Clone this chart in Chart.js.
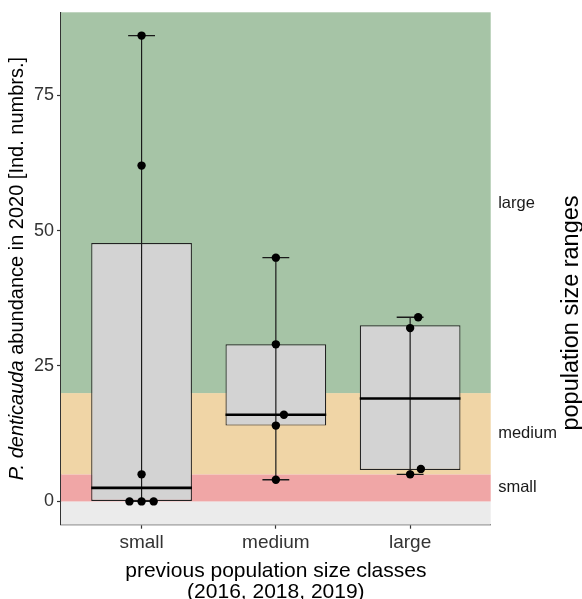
<!DOCTYPE html>
<html>
<head>
<meta charset="utf-8">
<script src="https://cdn.jsdelivr.net/npm/chart.js@4.4.1/dist/chart.umd.min.js"></script>
<style>
  html, body { margin: 0; padding: 0; background: #fff; }
  canvas { display: block; }
</style>
</head>
<body>
<canvas id="chart" width="582" height="599"></canvas>
<script>
const classes = ["small", "medium", "large"];
const classPos = [1, 2, 3];

// boxplot stats
const lowerWhisker = [0, 4, 5];
const lowerHinge = [0, 14, 5.8];
const medians = [2.5, 16, 19];
const upperHinge = [47.7, 29, 32.5];
const upperWhisker = [86, 45, 34];

// single observations (small sideways nudge as in the picture)
const smallValues = [86, 62, 5, 0, 0, 0];
const smallJitter = [0, 0, 0, -0.09, 0, 0.09];
const mediumValues = [45, 29, 16, 14, 4];
const mediumJitter = [0, 0, 0.06, 0, 0];
const largeValues = [34, 32, 6, 5];
const largeJitter = [0.06, 0, 0.08, 0];

// population size ranges behind the boxes
const bandFrom = [-Infinity, 0, 5, 20];
const bandTo = [0, 5, 20, Infinity];
const bandColors = ["#ebebeb", "#f0a6a6", "#f0d5a6", "#a6c4a6"];
const rangeNames = ["small", "medium", "large"];
const rangeLabelAt = [2.5, 12.5, 55];

const yTicks = [0, 25, 50, 75];
const xTitle = ["previous population size classes", "(2016, 2018, 2019)"];
const yTitle = [["P. denticauda", "italic"], [" abundance in 2020 [Ind. numbrs.]", "normal"]];
const rightTitle = "population size ranges";

const boxWidth = 0.75;
const capWidth = 0.2;
const FONT = "'Liberation Sans', Arial, Helvetica, sans-serif";

Chart.defaults.font.family = FONT;

const xHalf = (w) => (c) => {
  const x = c.chart.scales.x;
  return Math.abs(x.getPixelForValue(w / 2) - x.getPixelForValue(0));
};

const pts = [];
[smallValues, mediumValues, largeValues].forEach((vals, i) => {
  const jit = [smallJitter, mediumJitter, largeJitter][i];
  vals.forEach((v, j) => pts.push({ x: classPos[i] + jit[j], y: v }));
});

const whiskers = [];
classPos.forEach((x, i) => {
  whiskers.push({ x, y: lowerWhisker[i] }, { x, y: upperWhisker[i] }, { x, y: null });
});

const bandsPlugin = {
  id: "bands",
  beforeDatasetsDraw(chart) {
    const { ctx, chartArea: a, scales: { y } } = chart;
    ctx.save();
    bandFrom.forEach((from, i) => {
      const lo = Math.max(from, y.min);
      const hi = Math.min(bandTo[i], y.max);
      const top = y.getPixelForValue(hi);
      const bottom = y.getPixelForValue(lo);
      ctx.fillStyle = bandColors[i];
      ctx.fillRect(a.left, top, a.right - a.left, bottom - top);
    });
    ctx.restore();
  }
};

// rotated titles (left one mixes italic and normal text)
const titlesPlugin = {
  id: "titles",
  afterDraw(chart) {
    const { ctx, chartArea: a } = chart;
    ctx.save();
    ctx.fillStyle = "#000";
    ctx.textBaseline = "middle";
    ctx.translate(17, (a.top + a.bottom) / 2);
    ctx.rotate(-Math.PI / 2);
    let total = 0;
    yTitle.forEach(([t, st]) => {
      ctx.font = st + " 20px " + FONT;
      total += ctx.measureText(t).width;
    });
    let pos = -total / 2;
    yTitle.forEach(([t, st]) => {
      ctx.font = st + " 20px " + FONT;
      ctx.fillText(t, pos, 0);
      pos += ctx.measureText(t).width;
    });
    ctx.restore();

    ctx.save();
    ctx.fillStyle = "#000";
    ctx.textBaseline = "middle";
    ctx.textAlign = "center";
    ctx.font = "23.5px " + FONT;
    ctx.translate(572, 313);
    ctx.rotate(-Math.PI / 2);
    ctx.fillText(rightTitle, 0, 0);
    ctx.restore();
  }
};

new Chart(document.getElementById("chart"), {
  data: {
    datasets: [
      {
        type: "scatter",
        data: pts,
        pointRadius: 4.2,
        pointBackgroundColor: "#000",
        pointBorderWidth: 0,
        order: 0,
      },
      {
        type: "scatter",
        data: classPos.map((x, i) => ({ x, y: medians[i] })),
        pointStyle: "line",
        pointRadius: xHalf(boxWidth),
        pointBorderColor: "#000",
        pointBorderWidth: 2.6,
        order: 1,
      },
      {
        type: "scatter",
        data: classPos.flatMap((x, i) => [{ x, y: lowerWhisker[i] }, { x, y: upperWhisker[i] }]),
        pointStyle: "line",
        pointRadius: xHalf(capWidth),
        pointBorderColor: "#1a1a1a",
        pointBorderWidth: 1.3,
        order: 2,
      },
      {
        type: "line",
        data: whiskers,
        borderColor: "#1a1a1a",
        borderWidth: 1.2,
        pointRadius: 0,
        spanGaps: false,
        order: 3,
      },
      {
        type: "bar",
        data: classPos.map((x, i) => ({ x, y: [lowerHinge[i], upperHinge[i]] })),
        backgroundColor: "#d3d3d3",
        borderColor: "#222",
        borderWidth: 1.2,
        borderSkipped: false,
        categoryPercentage: boxWidth,
        barPercentage: 1,
        order: 4,
      },
    ],
  },
  options: {
    responsive: false,
    animation: false,
    devicePixelRatio: 1,
    layout: { padding: { top: 12.3, left: 0, right: 0, bottom: 0 } },
    plugins: { legend: { display: false }, tooltip: { enabled: false } },
    scales: {
      x: {
        type: "linear",
        min: 0.4,
        max: 3.6,
        offset: false,
        z: 1,
        afterBuildTicks: (s) => { s.ticks = classPos.map((v) => ({ value: v })); },
        afterFit: (s) => { s.height = 74.3; s.paddingLeft = 0; s.paddingRight = 0; },
        grid: { offset: false, drawOnChartArea: false, drawTicks: true, tickLength: 4, tickWidth: 1.2, tickColor: "#333" },
        border: { color: "#333", width: 1.3 },
        ticks: {
          callback: (v, i) => classes[i],
          font: { size: 19 },
          color: "#333",
          padding: 3,
          maxRotation: 0,
          autoSkip: false,
        },
        title: {
          display: true,
          text: xTitle,
          font: { size: 21, lineHeight: 1 },
          color: "#000",
          padding: { top: 0, bottom: -3.5 },
        },
      },
      y: {
        type: "linear",
        min: -4.3,
        max: 90.3,
        z: 1,
        afterBuildTicks: (s) => { s.ticks = yTicks.map((v) => ({ value: v })); },
        afterFit: (s) => { s.width = 61; s.paddingTop = 0; s.paddingBottom = 0; },
        grid: { drawOnChartArea: false, drawTicks: true, tickLength: 4, tickWidth: 1.2, tickColor: "#333" },
        border: { color: "#333", width: 1.3 },
        ticks: { font: { size: 18 }, color: "#333", padding: 3 },
      },
      y2: {
        type: "linear",
        position: "right",
        min: -4.3,
        max: 90.3,
        afterBuildTicks: (s) => { s.ticks = rangeLabelAt.map((v) => ({ value: v })); },
        afterFit: (s) => { s.width = 91.3; s.paddingTop = 0; s.paddingBottom = 0; },
        grid: { display: false, drawTicks: false, tickLength: 0 },
        border: { display: false },
        ticks: { callback: (v, i) => rangeNames[i], font: { size: 16.5 }, color: "#1a1a1a", padding: 7.5 },
      },
    },
  },
  plugins: [bandsPlugin, titlesPlugin],
});
</script>
</body>
</html>
